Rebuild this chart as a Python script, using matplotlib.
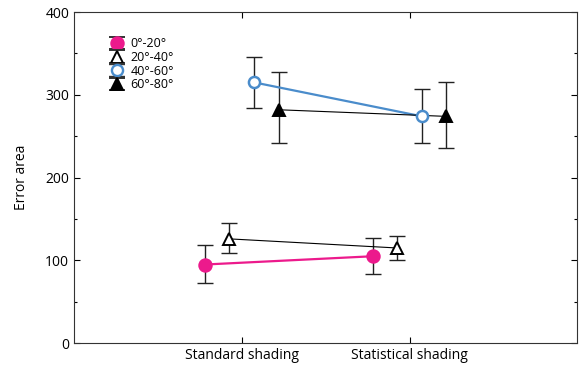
import matplotlib
matplotlib.use('Agg')
import matplotlib.pyplot as plt
import numpy as np
from matplotlib.ticker import MultipleLocator

# conditions and groups
conditions = ['Standard shading', 'Statistical shading']
groups = ['0°-20°', '20°-40°', '40°-60°', '60°-80°']
offsets = [-0.22, -0.075, 0.075, 0.22]

# mean error area and error bar bounds per group
means = [[95, 105], [126, 115], [315, 274], [282, 274]]
upper = [[118, 127], [145, 130], [346, 307], [328, 315]]
lower = [[73, 84], [109, 101], [284, 242], [242, 236]]

colors = ['#ec1a8c', 'black', '#4a8ccb', 'black']
facecolors = ['#ec1a8c', 'white', 'white', 'black']
markers = ['o', '^', 'o', '^']
msizes = [9, 8, 8, 8]
lwidths = [1.6, 0.8, 1.6, 0.8]

plt.rcParams['font.family'] = ['Open Sans', 'DejaVu Sans']
fig = plt.figure(figsize=(5.79, 3.67), dpi=100)
ax = fig.add_axes([0.128, 0.065, 0.869, 0.902])

for i, g in enumerate(groups):
    xs = [k + 1 + offsets[i] for k in range(len(conditions))]
    yerr = [[m - l for m, l in zip(means[i], lower[i])],
            [u - m for m, u in zip(means[i], upper[i])]]
    # error bars first, in dark grey
    ax.errorbar(xs, means[i], yerr=yerr, fmt='none', ecolor='#222222',
                elinewidth=1.0, capsize=6, capthick=1.0, zorder=2)
    ax.plot(xs, means[i], color=colors[i], lw=lwidths[i], zorder=3)
    ax.plot(xs, means[i], ls='none', marker=markers[i], ms=msizes[i],
            mfc=facecolors[i], mec=colors[i], mew=1.8 if i == 2 else 1.4, zorder=4)

# legend with errorbar-like handles
handles = []
for i, g in enumerate(groups):
    h = ax.errorbar([np.nan], [np.nan], yerr=[1], color=colors[i], marker=markers[i],
                    ms=msizes[i], mfc=facecolors[i], mec=colors[i],
                    mew=1.7 if i == 2 else 1.4, ecolor='#333333', capsize=6,
                    lw=0, elinewidth=1, label=g)
    handles.append(h)
ax.legend(handles=handles, loc='upper left', bbox_to_anchor=(0.05, 0.95),
          frameon=False, fontsize=9, handlelength=1.4, handletextpad=0.4,
          labelspacing=0.05, borderpad=0.2)

ax.set_xlim(0, 3)
ax.set_ylim(0, 400)
ax.set_xticks([1, 2])
ax.set_xticklabels(conditions, fontsize=10)
ax.set_yticks([0, 100, 200, 300, 400])
ax.yaxis.set_minor_locator(MultipleLocator(50))
ax.tick_params(axis='both', which='both', direction='in', top=True, right=True,
               labelsize=10, width=0.8)
ax.tick_params(which='major', length=4)
ax.tick_params(which='minor', length=2)
ax.set_ylabel('Error area', fontsize=10, labelpad=12)
for s in ax.spines.values():
    s.set_linewidth(0.8)
    s.set_color('#333333')

fig.savefig('out.png', dpi=100)
